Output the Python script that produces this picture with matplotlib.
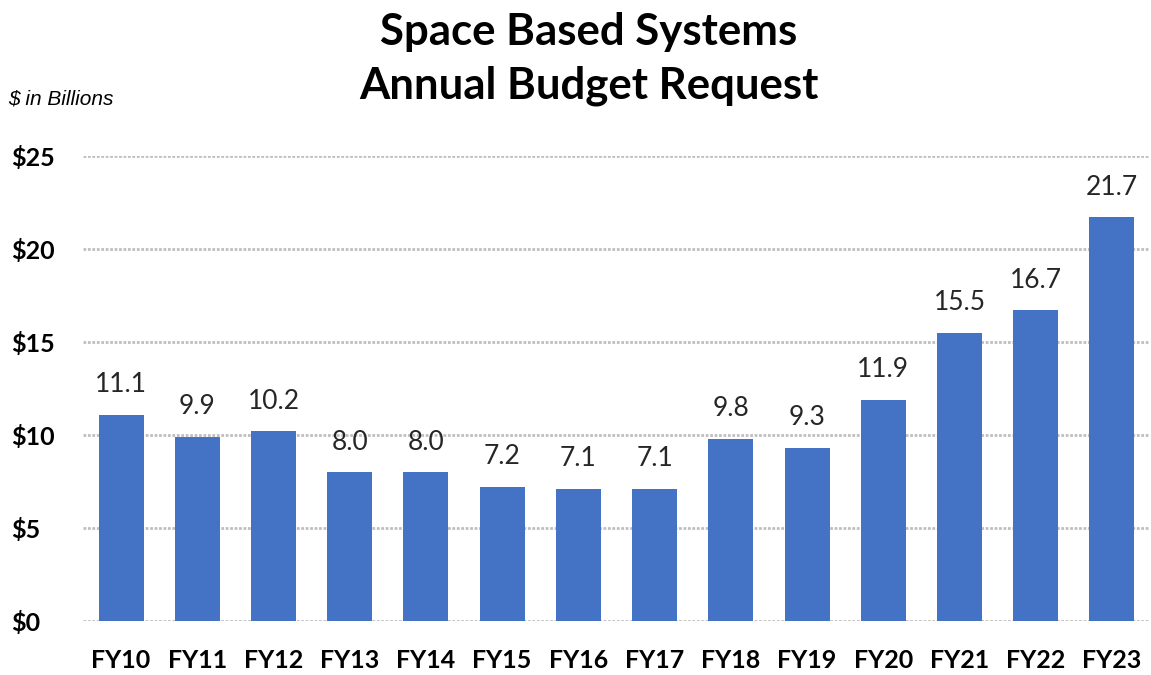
import matplotlib
matplotlib.use("Agg")
import matplotlib.pyplot as plt

categories = ["FY10", "FY11", "FY12", "FY13", "FY14", "FY15", "FY16",
              "FY17", "FY18", "FY19", "FY20", "FY21", "FY22", "FY23"]
values = [11.1, 9.9, 10.2, 8.0, 8.0, 7.2, 7.1, 7.1, 9.8, 9.3, 11.9, 15.5, 16.7, 21.7]
yticks = [0, 5, 10, 15, 20, 25]
ytick_labels = ["$0", "$5", "$10", "$15", "$20", "$25"]

W, H = 1151, 675
fig = plt.figure(figsize=(W / 100, H / 100), dpi=100)
ax = fig.add_axes([83 / W, 1 - 621 / H, (1150 - 83) / W, (621 - 156) / H])

x = list(range(len(categories)))
ax.bar(x, values, width=0.59, color="#4472C4", zorder=3)
for xi, v in zip(x, values):
    ax.text(xi, v + 0.95, f"{v:.1f}", ha="center", va="bottom",
            fontsize=19, family="Lato", color="#262626")

ax.set_xlim(-0.5, len(categories) - 0.5)
ax.set_ylim(0, 25)
ax.set_yticks(yticks)
ax.set_yticklabels(ytick_labels, family="Lato", fontweight="bold", fontsize=18)
ax.set_xticks(x)
ax.set_xticklabels(categories, family="Lato", fontweight="bold", fontsize=18)
ax.tick_params(axis="both", length=0)
ax.tick_params(axis="x", pad=20)
for lab in ax.get_yticklabels():
    lab.set_horizontalalignment("left")
ax.tick_params(axis="y", pad=52)

ax.yaxis.grid(True, color="#BFBFBF", linestyle=(0, (1, 0.6)), linewidth=2, zorder=0)
for s in ax.spines.values():
    s.set_visible(False)

fig.text(589 / W, 1 - 59 / H, "Space Based Systems\nAnnual Budget Request",
         ha="center", va="center", family="Lato", fontweight="bold",
         fontsize=31.5, linespacing=1.38)
fig.text(8 / W, 1 - 99 / H, "$ in Billions", ha="left", va="center",
         family="Liberation Sans", style="italic", fontsize=15)

fig.savefig("out.png", dpi=100)
